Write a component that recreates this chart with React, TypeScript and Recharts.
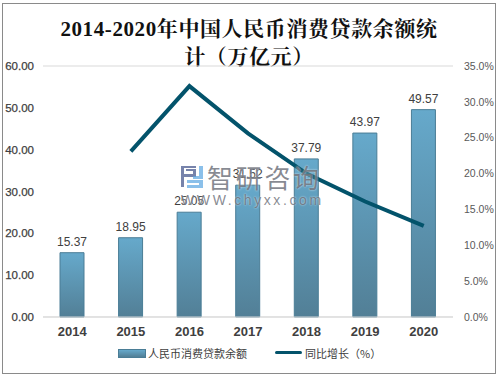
import { Bar, CartesianGrid, ComposedChart, LabelList, Legend, Line, XAxis, YAxis } from 'recharts';

const years = ['2014', '2015', '2016', '2017', '2018', '2019', '2020'];
const balances = [15.37, 18.95, 25.05, 31.52, 37.79, 43.97, 49.57];
const growth = [null, 23.1, 32.2, 25.6, 20.0, 16.1, 12.7];
const leftTicks = [0, 10, 20, 30, 40, 50, 60];
const rightTicks = [0, 5, 10, 15, 20, 25, 30, 35];

const data = years.map((year, i) => ({ year, balance: balances[i], growth: growth[i] }));

const cjk = '"Noto Sans CJK SC", "Noto Sans", sans-serif';
const latin = '"Liberation Sans", sans-serif';

function ChartLegend() {
    return (
        <div style={{ display: 'flex', alignItems: 'center', height: 20, fontFamily: cjk, fontSize: 11, color: '#404040', whiteSpace: 'nowrap' }}>
            <span style={{ position: 'absolute', left: 118, top: 6, width: 26, height: 7, border: '1px solid #4a7d96', background: 'linear-gradient(#66a9cb, #527f96)' }} />
            <span style={{ position: 'absolute', left: 148, top: 1, lineHeight: '18px' }}>人民币消费贷款余额</span>
            <span style={{ position: 'absolute', left: 275, top: 8, width: 27, height: 3, borderRadius: 2, background: '#03536b' }} />
            <span style={{ position: 'absolute', left: 305, top: 1, lineHeight: '18px' }}>同比增长（%）</span>
        </div>
    );
}

export default function App() {
    return (
        <div style={{ position: 'absolute', left: 0, top: 0, width: 498, height: 376, overflow: 'hidden', background: '#fff' }}>
            <div style={{ position: 'absolute', left: 2, top: 3, width: 492, height: 369, border: '1px solid #8a8a8a' }} />
            <div
                style={{
                    position: 'absolute',
                    left: 54,
                    top: 15,
                    width: 390,
                    textAlign: 'center',
                    fontFamily: '"Liberation Serif", "Noto Serif CJK SC", serif',
                    fontSize: 21,
                    lineHeight: '28px',
                    fontWeight: 700,
                    color: '#111',
                    letterSpacing: 0.6,
                }}
            >
                2014-2020年中国人民币消费贷款余额统计（万亿元）
            </div>
            <ComposedChart
                width={498}
                height={376}
                data={data}
                margin={{ top: 66, right: 0, bottom: 15, left: 0 }}
                style={{ position: 'absolute', left: 0, top: 0 }}
            >
                <defs>
                    <linearGradient id="barFill" x1="0" y1="0" x2="0" y2="1">
                        <stop offset="0%" stopColor="#66a9cb" />
                        <stop offset="100%" stopColor="#527f96" />
                    </linearGradient>
                </defs>
                <CartesianGrid vertical={false} stroke="#d9d9d9" strokeWidth={1} />
                <XAxis
                    dataKey="year"
                    height={24}
                    axisLine={{ stroke: '#d9d9d9' }}
                    tickLine={false}
                    tickMargin={4}
                    tick={{ fontFamily: latin, fontSize: 13, fontWeight: 700, fill: '#404040' }}
                />
                <YAxis
                    yAxisId="left"
                    width={43}
                    domain={[0, 60]}
                    ticks={leftTicks}
                    axisLine={false}
                    tickLine={false}
                    tickMargin={3}
                    tickFormatter={(v: number) => v.toFixed(2)}
                    tick={{ fontFamily: latin, fontSize: 11.5, fill: '#404040', stroke: '#404040', strokeWidth: 0.25 }}
                />
                <YAxis
                    yAxisId="right"
                    orientation="right"
                    width={45}
                    domain={[0, 35]}
                    ticks={rightTicks}
                    axisLine={false}
                    tickLine={false}
                    tickMargin={5}
                    tickFormatter={(v: number) => `${v.toFixed(1)}%`}
                    tick={{ fontFamily: latin, fontSize: 10.5, fill: '#595959' }}
                />
                <Bar
                    yAxisId="left"
                    dataKey="balance"
                    name="人民币消费贷款余额"
                    barSize={24}
                    fill="url(#barFill)"
                    stroke="#4a7d96"
                    strokeWidth={1}
                    isAnimationActive={false}
                >
                    <LabelList
                        dataKey="balance"
                        position="top"
                        offset={7}
                        formatter={(v: number) => v.toFixed(2)}
                        style={{ fontFamily: latin, fontSize: 12, fill: '#404040' }}
                    />
                </Bar>
                <Line
                    yAxisId="right"
                    dataKey="growth"
                    name="同比增长（%）"
                    type="linear"
                    stroke="#03536b"
                    strokeWidth={4}
                    dot={false}
                    isAnimationActive={false}
                />
                <Legend verticalAlign="bottom" height={20} content={<ChartLegend />} wrapperStyle={{ left: 0, bottom: 13, width: 498 }} />
            </ComposedChart>
            <svg width={24} height={24} style={{ position: 'absolute', left: 180, top: 165 }}>
                <path d="M1 1H16V3H4V9H13V6H6V4H16V12H4V22H1Z" fill="rgba(85,100,150,0.8)" />
                <path d="M19 1H23V14H13V11H19ZM7 15H23V23H7V20H19V18H7Z" fill="rgba(90,165,225,0.7)" />
            </svg>
            <div style={{ position: 'absolute', left: 207, top: 161, fontFamily: cjk, fontSize: 26, letterSpacing: 2.7, color: 'rgba(95,100,110,0.75)', lineHeight: '32px', whiteSpace: 'nowrap', textShadow: '0 0 2px rgba(255,255,255,0.8)' }}>
                智研咨询
            </div>
            <div style={{ position: 'absolute', left: 181, top: 192, fontFamily: latin, fontSize: 14, letterSpacing: 2.6, color: 'rgba(95,100,110,0.75)', lineHeight: '17px', whiteSpace: 'nowrap', textShadow: '0 0 2px rgba(255,255,255,0.8)' }}>
                WWW.chyxx.com
            </div>
        </div>
    );
}
